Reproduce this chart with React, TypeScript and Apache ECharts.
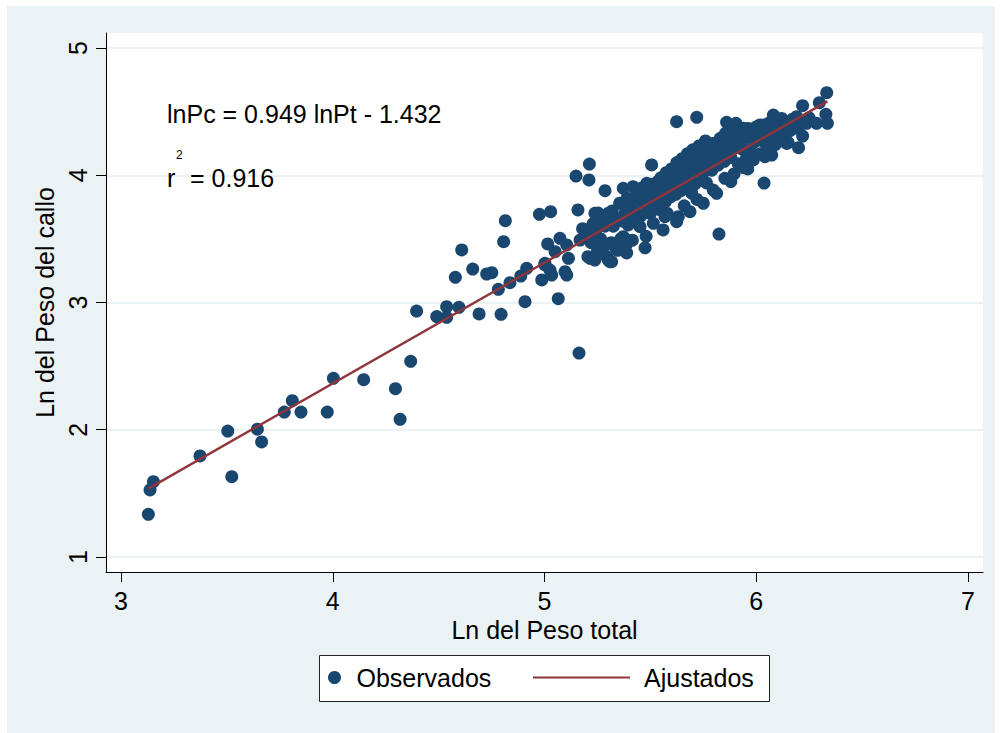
import React, { useEffect, useRef } from "react";
import * as echarts from "echarts";

const FONT = '"Liberation Sans", Arial, Helvetica, sans-serif';

// Regression of ln(callus weight) on ln(total weight)
const slope = 0.949;
const intercept = -1.432;
const r2 = 0.916;

const xTicks = [3, 4, 5, 6, 7];
const yTicks = [1, 2, 3, 4, 5];

// Observed pairs: [ln total weight, ln callus weight]
const observadosBajos: [number, number][] = [
  [3.129, 1.335], [3.137, 1.527], [3.153, 1.592], [3.373, 1.794], [3.504, 1.99],
  [3.523, 1.631], [3.644, 2.004], [3.664, 1.904], [3.771, 2.139], [3.809, 2.228],
  [3.85, 2.139], [3.974, 2.139], [4.003, 2.404], [4.146, 2.393], [4.296, 2.323],
  [4.318, 2.082], [4.368, 2.538], [4.396, 2.933], [4.491, 2.889], [4.538, 2.967],
  [4.538, 2.884], [4.596, 2.962], [4.579, 3.198], [4.609, 3.413], [4.661, 3.263],
  [4.691, 2.91], [4.727, 3.224], [4.751, 3.234], [4.782, 3.104], [4.795, 2.907],
  [4.807, 3.478], [4.815, 3.643], [4.837, 3.156], [4.888, 3.208], [4.908, 3.006],
  [4.916, 3.269], [4.976, 3.693], [4.987, 3.177], [5.002, 3.308], [5.002, 3.295],
  [5.015, 3.46], [5.029, 3.714], [5.026, 3.255], [5.034, 3.216], [5.05, 3.399],
  [5.065, 3.03], [5.073, 3.504], [5.097, 3.242], [5.105, 3.216], [5.105, 3.452],
  [5.113, 3.347], [5.149, 3.994], [5.158, 3.727], [5.163, 2.603], [5.168, 3.491],
  [5.18, 3.58], [5.199, 3.57], [5.212, 4.088], [5.21, 3.963], [5.223, 3.583],
  [5.223, 3.517], [5.238, 3.701], [5.247, 3.452], [5.215, 3.347], [5.238, 3.334],
  [5.205, 3.36],
];

const observadosCentro: [number, number][] = [
  [5.205, 3.52], [5.22, 3.47], [5.23, 3.62], [5.24, 3.55], [5.25, 3.4],
  [5.253, 3.703], [5.265, 3.5], [5.27, 3.66], [5.28, 3.44], [5.285, 3.6],
  [5.286, 3.879], [5.295, 3.36], [5.3, 3.63], [5.301, 3.701],
  [5.301, 3.334], [5.309, 3.321], [5.315, 3.47], [5.317, 3.321],
  [5.32, 3.72], [5.325, 3.6], [5.333, 3.438], [5.34, 3.66],
  [5.345, 3.41], [5.355, 3.78], [5.356, 3.438], [5.36, 3.5],
  [5.37, 3.64], [5.372, 3.517], [5.372, 3.897], [5.38, 3.7], [5.385, 3.45],
  [5.388, 3.491], [5.388, 3.39], [5.39, 3.82], [5.395, 3.61], [5.405, 3.74],
  [5.41, 3.66], [5.415, 3.49], [5.418, 3.91], [5.42, 3.8], [5.43, 3.71],
  [5.435, 3.86], [5.44, 3.63], [5.45, 3.76], [5.451, 3.596],
  [5.455, 3.68], [5.46, 3.9], [5.47, 3.82], [5.475, 3.73], [5.475, 3.43],
  [5.48, 3.52], [5.483, 3.937], [5.485, 3.87], [5.495, 3.79], [5.5, 3.7],
  [5.505, 3.93], [5.506, 4.081], [5.51, 3.84], [5.514, 3.622],
  [5.52, 3.77], [5.525, 3.89], [5.535, 3.95], [5.54, 3.81],
  [5.545, 3.73], [5.546, 3.963], [5.55, 3.98], [5.555, 3.86], [5.56, 3.57],
  [5.565, 3.92], [5.569, 3.674], [5.57, 3.79], [5.575, 4.02], [5.58, 3.88],
  [5.58, 3.7], [5.59, 3.96], [5.595, 3.83], [5.6, 4.05], [5.605, 3.9],
  [5.615, 3.99], [5.62, 3.85], [5.624, 4.421], [5.624, 3.635], [5.625, 4.1],
  [5.63, 3.93], [5.632, 3.674], [5.64, 4.02], [5.645, 3.88], [5.65, 4.13],
  [5.655, 3.96], [5.66, 3.76], [5.665, 4.07], [5.67, 3.91], [5.675, 4.17],
  [5.68, 3.99], [5.687, 3.714], [5.69, 4.09], [5.695, 3.86],
  [5.7, 4.2],
];

const observadosAltos: [number, number][] = [
  [5.705, 4.02], [5.71, 3.93], [5.715, 4.14], [5.719, 4.455], [5.72, 3.81],
  [5.725, 4.06], [5.73, 4.23], [5.735, 3.97], [5.74, 4.12], [5.75, 3.78],
  [5.75, 4.18], [5.755, 4.03], [5.76, 4.27], [5.765, 3.94], [5.77, 4.1],
  [5.775, 4.21], [5.785, 4.15], [5.79, 4.04], [5.795, 4.25],
  [5.797, 3.884], [5.8, 4.12], [5.805, 4.251], [5.813, 3.858],
  [5.815, 4.2], [5.82, 4.08], [5.824, 3.538], [5.83, 4.29], [5.835, 4.16],
  [5.845, 4.24], [5.85, 4.11], [5.852, 3.976], [5.855, 4.33],
  [5.86, 4.277], [5.86, 4.416], [5.865, 4.19], [5.875, 4.26],
  [5.88, 4.14], [5.88, 3.95], [5.885, 4.35], [5.89, 4.22], [5.895, 4.01], [5.9, 4.3],
  [5.904, 4.408], [5.91, 4.25], [5.915, 4.09], [5.92, 4.34],
  [5.923, 4.356], [5.93, 4.21], [5.935, 4.28], [5.939, 4.094], [5.94, 4.37],
  [5.94, 4.06], [5.955, 4.15], [5.96, 4.05], [5.963, 4.368], [5.965, 4.3],
  [5.97, 4.2], [5.98, 4.33], [5.986, 4.12], [5.99, 4.26], [6.0, 4.38],
  [6.01, 4.31], [6.018, 4.395], [6.02, 4.17], [6.03, 4.27], [6.037, 4.395],
  [6.037, 3.939], [6.041, 4.146], [6.045, 4.34], [6.05, 4.24], [6.06, 4.41],
  [6.065, 4.224], [6.07, 4.3], [6.073, 4.159], [6.081, 4.473], [6.081, 4.303],
  [6.09, 4.36], [6.09, 4.24], [6.096, 4.277], [6.11, 4.42], [6.12, 4.447],
  [6.13, 4.33], [6.14, 4.39], [6.144, 4.25], [6.151, 4.408], [6.151, 4.256],
  [6.16, 4.35], [6.17, 4.44], [6.18, 4.37], [6.191, 4.46], [6.2, 4.217],
  [6.21, 4.4], [6.219, 4.547], [6.219, 4.308], [6.238, 4.408], [6.25, 4.45],
  [6.285, 4.408], [6.298, 4.57], [6.329, 4.479], [6.333, 4.649], [6.336, 4.408],
];

const observados = [...observadosBajos, ...observadosCentro, ...observadosAltos];

const NAVY = "#1A476F";
const MAROON = "#90353B";
const BLUISH_GRAY = "#EAF2F3";

export default function App() {
  const ref = useRef<HTMLDivElement>(null);

  useEffect(() => {
    if (!ref.current) return;
    const chart = echarts.init(ref.current, undefined, { renderer: "svg" });

    const xs = observados.map((p) => p[0]);
    const xMin = Math.min(...xs);
    const xMax = Math.max(...xs);
    const ajustados = [
      [xMin, slope * xMin + intercept],
      [xMax, slope * xMax + intercept],
    ];

    const axisText = { fontSize: 25, color: "#000", fontFamily: FONT };

    chart.setOption({
      animation: false,
      textStyle: { fontFamily: FONT },
      grid: {
        left: 106,
        top: 33,
        width: 877,
        height: 539,
        show: true,
        backgroundColor: "#ffffff",
        borderWidth: 0,
      },
      xAxis: {
        type: "value",
        min: 2.929,
        max: 7.071,
        axisLine: { show: true, onZero: false, lineStyle: { color: "#000", width: 1 } },
        axisTick: { show: true, length: 10, customValues: xTicks, lineStyle: { color: "#000" } },
        axisLabel: { customValues: xTicks, margin: 16, ...axisText },
        splitLine: { show: false },
        name: "Ln del Peso total",
        nameLocation: "middle",
        nameGap: 37,
        nameTextStyle: axisText,
      },
      yAxis: {
        type: "value",
        min: 0.882,
        max: 5.118,
        axisLine: { show: true, onZero: false, lineStyle: { color: "#000", width: 1 } },
        axisTick: { show: true, length: 10, customValues: yTicks, lineStyle: { color: "#000" } },
        axisLabel: { customValues: yTicks, rotate: 90, margin: 16, ...axisText },
        splitLine: { show: true, lineStyle: { color: BLUISH_GRAY, width: 2 } },
        name: "Ln del Peso del callo",
        nameLocation: "middle",
        nameGap: 32,
        nameTextStyle: axisText,
      },
      legend: [
        {
          data: ["Observados"],
          left: 328,
          top: 665,
          padding: 0,
          itemWidth: 34,
          itemHeight: 13,
          symbolKeepAspect: true,
          selectedMode: false,
          textStyle: { fontSize: 25, color: "#000", fontFamily: FONT },
        },
        {
          data: [{ name: "Ajustados", icon: "rect" }],
          left: 533,
          top: 665,
          padding: 0,
          itemWidth: 97,
          itemHeight: 2,
          symbolKeepAspect: false,
          selectedMode: false,
          itemStyle: { color: MAROON },
          textStyle: { fontSize: 25, color: "#000", fontFamily: FONT, padding: [0, 0, 0, 9] },
        },
      ],
      graphic: [
        {
          type: "rect",
          z: 1,
          shape: { x: 319.5, y: 655.5, width: 450, height: 46 },
          style: { fill: "#ffffff", stroke: "#222", lineWidth: 1 },
        },
        {
          type: "text",
          z: 10,
          x: 167,
          y: 114,
          style: {
            text: `lnPc = ${slope.toFixed(3)} lnPt - ${Math.abs(intercept).toFixed(3)}`,
            fontSize: 25,
            fontFamily: FONT,
            fill: "#000",
            verticalAlign: "middle",
          },
        },
        {
          type: "text",
          z: 10,
          x: 167,
          y: 178,
          style: { text: "r", fontSize: 25, fontFamily: FONT, fill: "#000", verticalAlign: "middle" },
        },
        {
          type: "text",
          z: 10,
          x: 176,
          y: 155,
          style: { text: "2", fontSize: 12, fontFamily: FONT, fill: "#000", verticalAlign: "middle" },
        },
        {
          type: "text",
          z: 10,
          x: 190,
          y: 178,
          style: {
            text: `= ${r2.toFixed(3)}`,
            fontSize: 25,
            fontFamily: FONT,
            fill: "#000",
            verticalAlign: "middle",
          },
        },
      ],
      series: [
        {
          type: "scatter",
          name: "Observados",
          data: observados,
          symbol: "circle",
          symbolSize: 13,
          itemStyle: { color: NAVY, opacity: 1 },
          z: 2,
        },
        {
          type: "line",
          name: "Ajustados",
          data: ajustados,
          symbol: "none",
          lineStyle: { color: MAROON, width: 2.4 },
          itemStyle: { color: MAROON },
          z: 3,
        },
      ],
    });

    return () => chart.dispose();
  }, []);

  return (
    <div
      style={{
        position: "absolute",
        left: 0,
        top: 0,
        width: 1000,
        height: 733,
        background: "#ffffff",
      }}
    >
      <div
        style={{
          position: "absolute",
          left: 7,
          top: 6,
          width: 988,
          height: 727,
          background: BLUISH_GRAY,
        }}
      />
      <div ref={ref} style={{ position: "absolute", left: 0, top: 0, width: 1000, height: 733 }} />
    </div>
  );
}
